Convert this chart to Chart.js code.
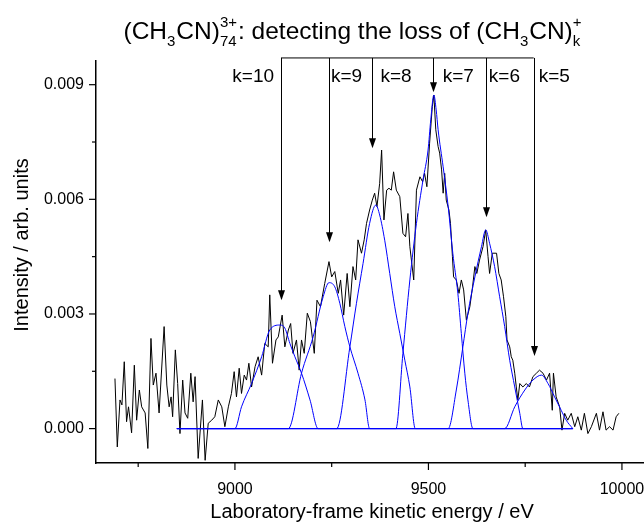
<!DOCTYPE html>
<html>
<head>
<meta charset="utf-8">
<script src="https://cdn.jsdelivr.net/npm/chart.js@4"></script>
<style>
  html, body { margin: 0; padding: 0; background: #fff; }
  #wrap { width: 644px; height: 525px; }
</style>
</head>
<body>
<div id="wrap"><canvas id="spectrum"></canvas></div>
<script>
// measured spectrum (black trace)
const traceEnergy = [
  8690, 8696, 8703, 8708, 8714, 8720, 8725, 8733, 8740, 8746,
  8753, 8759, 8768, 8775, 8783, 8789, 8796, 8804, 8817, 8824,
  8830, 8835, 8839, 8846, 8852, 8858, 8865, 8871, 8878, 8886,
  8892, 8897, 8905, 8916, 8923, 8931, 8940, 8948, 8957, 8966,
  8974, 8983, 8991, 8998, 9004, 9011, 9017, 9024, 9030, 9036,
  9043, 9052, 9060, 9069, 9077, 9086, 9090, 9097, 9106, 9112,
  9122, 9129, 9138, 9144, 9150, 9159, 9166, 9172, 9179, 9187,
  9195, 9205, 9212, 9221, 9232, 9243, 9250, 9258, 9267, 9273,
  9281, 9290, 9297, 9305, 9312, 9318, 9327, 9334, 9340, 9348,
  9355, 9361, 9367, 9374, 9379, 9385, 9392, 9398, 9404, 9410,
  9417, 9426, 9434, 9441, 9447, 9452, 9462, 9469, 9478, 9485,
  9490, 9496, 9503, 9510, 9514, 9519, 9525, 9529, 9534, 9538,
  9542, 9546, 9553, 9557, 9562, 9565, 9572, 9579, 9585, 9591,
  9598, 9607, 9614, 9620, 9625, 9632, 9641, 9648, 9654, 9658,
  9665, 9676, 9682, 9688, 9694, 9700, 9703, 9710, 9714, 9718,
  9723, 9727, 9731, 9736, 9744, 9753, 9761, 9770, 9779, 9787,
  9796, 9805, 9813, 9820, 9823, 9830, 9839, 9845, 9852, 9860,
  9869, 9878, 9886, 9895, 9903, 9912, 9921, 9934, 9942, 9951,
  9959, 9968, 9977, 9985, 9992
];
const traceIntensity = [
  0.00131, -0.00048, 0.00075, 0.00062, 0.00175, 0.00018, 0.00057, -0.00011, 0.00166, 0.00022,
  0.00101, 0.00057, 0.00041, -0.00052, 0.00236, 0.00114, 0.00145, 0.00041, 0.00267, 0.00114,
  0.00057, 0.00083, 0.00031, 0.00206, 0.00118, -0.00013, 0.00127, 0.00041, 0.00027, 0.00145,
  0.00070, 0.00136, -0.00078, 0.00075, -0.00083, 0.00014, 0.00022, 0.00031, 0.00075, 0.00057,
  0.00005, 0.00057, 0.00092, 0.00149, 0.00083, 0.00158, 0.00092, 0.00140, 0.00127, 0.00171,
  0.00109, 0.00162, 0.00188, 0.00140, 0.00223, 0.00214, 0.00350, 0.00171, 0.00232, 0.00240,
  0.00297, 0.00214, 0.00258, 0.00275, 0.00197, 0.00232, 0.00153, 0.00232, 0.00197, 0.00302,
  0.00280, 0.00197, 0.00336, 0.00319, 0.00380, 0.00437, 0.00397, 0.00411, 0.00354, 0.00389,
  0.00297, 0.00406, 0.00319, 0.00424, 0.00389, 0.00494, 0.00459, 0.00494, 0.00537, 0.00572,
  0.00598, 0.00616, 0.00581, 0.00642, 0.00729, 0.00546, 0.00624, 0.00629, 0.00624, 0.00672,
  0.00624, 0.00607, 0.00511, 0.00502, 0.00563, 0.00476, 0.00389, 0.00624, 0.00659, 0.00646,
  0.00668, 0.00633, 0.00747, 0.00843, 0.00873, 0.00782, 0.00738, 0.00721, 0.00677, 0.00616,
  0.00668, 0.00598, 0.00572, 0.00537, 0.00450, 0.00397, 0.00389, 0.00354, 0.00389, 0.00363,
  0.00284, 0.00319, 0.00371, 0.00424, 0.00406, 0.00441, 0.00476, 0.00520, 0.00450, 0.00406,
  0.00459, 0.00459, 0.00406, 0.00389, 0.00345, 0.00293, 0.00232, 0.00214, 0.00188, 0.00179,
  0.00145, 0.00109, 0.00075, 0.00118, 0.00109, 0.00118, 0.00109, 0.00136, 0.00145, 0.00153,
  0.00145, 0.00127, 0.00145, 0.00048, 0.00145, 0.00083, 0.00057, -0.00004, 0.00040, 0.00022,
  0.00040, 0.00005, 0.00031, -0.00004, 0.00040, -0.00013, 0.00005, 0.00040, -0.00004, 0.00044,
  -0.00004, 0.00005, -0.00004, 0.00031, 0.00040
];

// fitted peaks (blue), one per k
const fit10Energy = [8850, 9000, 9017, 9043, 9069, 9090, 9116, 9129, 9142, 9155, 9172, 9194, 9215, 9873];
const fit10Intensity = [0, 0, 0.00057, 0.00118, 0.00188, 0.00258, 0.00271, 0.00263, 0.00223, 0.00188, 0.00145, 0.00075, 0, 0];
const fit9Energy = [8850, 9138, 9172, 9202, 9228, 9243, 9258, 9271, 9284, 9297, 9318, 9336, 9348, 9873];
const fit9Intensity = [0, 0, 0.00145, 0.00240, 0.00345, 0.00382, 0.00371, 0.00328, 0.00267, 0.00214, 0.00145, 0.00075, 0, 0];
const fit8Energy = [8850, 9263, 9297, 9314, 9331, 9348, 9364, 9374, 9387, 9400, 9413, 9426, 9439, 9452, 9466, 9873];
const fit8Intensity = [0, 0, 0.00214, 0.00328, 0.00432, 0.00537, 0.00585, 0.00559, 0.00493, 0.00406, 0.00319, 0.00249, 0.00179, 0.00109, 0, 0];
const fit7Energy = [8850, 9416, 9434, 9452, 9469, 9486, 9499, 9506, 9514, 9520, 9525, 9538, 9551, 9563, 9576, 9585, 9594, 9602, 9615, 9873];
const fit7Intensity = [0, 0, 0.00197, 0.00389, 0.00537, 0.00651, 0.00729, 0.00808, 0.00873, 0.00834, 0.00782, 0.00685, 0.00581, 0.00459, 0.00354, 0.00249, 0.00145, 0.00075, 0, 0];
const fit6Energy = [8850, 9551, 9572, 9589, 9602, 9620, 9637, 9648, 9658, 9671, 9684, 9697, 9710, 9723, 9736, 9744, 9873];
const fit6Intensity = [0, 0, 0.00101, 0.00214, 0.00302, 0.00397, 0.00476, 0.00520, 0.00485, 0.00424, 0.00345, 0.00267, 0.00179, 0.00109, 0.00040, 0, 0];
const fit5Energy = [8850, 9697, 9723, 9749, 9770, 9792, 9809, 9826, 9843, 9856, 9873];
const fit5Intensity = [0, 0, 0.00057, 0.00101, 0.00127, 0.00140, 0.00118, 0.00083, 0.00048, 0.00022, 0];

// arrows marking each k
const arrowLabels = ['k=10', 'k=9', 'k=8', 'k=7', 'k=6', 'k=5'];
const arrowEnergy = [9119, 9243, 9354, 9512, 9648, 9772];
const arrowTip = [0.00336, 0.00488, 0.00734, 0.00880, 0.00553, 0.00190];
const arrowTop = 0.0097;
const labelEnergy = [9101, 9248, 9376, 9537, 9656, 9785];
const labelLevel = 0.0092;

// axes
const xTicks = [9000, 9500, 10000];
const xMinorTicks = [8750, 9250, 9750];
const yTicks = [0, 0.003, 0.006, 0.009];
const yMinorTicks = [0.0015, 0.0045, 0.0075];

const FONT = '"Liberation Sans", Arial, sans-serif';

function pairs(xs, ys) {
    return xs.map((x, i) => ({x: x, y: ys[i]}));
}

function fitSet(xs, ys) {
    return {
        data: pairs(xs, ys),
        showLine: true,
        borderColor: '#0000ff',
        borderWidth: 1,
        pointRadius: 0,
        cubicInterpolationMode: 'monotone',
        order: 0
    };
}

function line(ctx, x1, y1, x2, y2) {
    ctx.beginPath();
    ctx.moveTo(x1, y1);
    ctx.lineTo(x2, y2);
    ctx.stroke();
}

// text with stacked sub/superscripts, centred on cx
function drawRich(ctx, parts, cx, baseline, size) {
    const big = size + 'px ' + FONT;
    const small = Math.round(size * 0.62) + 'px ' + FONT;
    let widths = parts.map(p => {
        if (p.t) { ctx.font = big; return ctx.measureText(p.t).width; }
        ctx.font = small;
        return Math.max(p.sub ? ctx.measureText(p.sub).width : 0, p.sup ? ctx.measureText(p.sup).width : 0) + 1;
    });
    let x = cx - widths.reduce((a, b) => a + b, 0) / 2;
    ctx.textAlign = 'left';
    ctx.textBaseline = 'alphabetic';
    parts.forEach((p, i) => {
        if (p.t) {
            ctx.font = big;
            ctx.fillText(p.t, x, baseline);
        } else {
            ctx.font = small;
            if (p.sub) ctx.fillText(p.sub, x, baseline + size * 0.3);
            if (p.sup) ctx.fillText(p.sup, x, baseline - size * 0.47);
        }
        x += widths[i];
    });
}

const decorations = {
    id: 'decorations',
    afterDraw(chart) {
        const ctx = chart.ctx;
        const xs = chart.scales.x, ys = chart.scales.y;
        const area = chart.chartArea;
        ctx.save();
        ctx.strokeStyle = '#000';
        ctx.fillStyle = '#000';

        // tick marks outside the frame, with their labels
        ctx.lineWidth = 1.2;
        ctx.font = '16px ' + FONT;
        ctx.textAlign = 'center';
        ctx.textBaseline = 'middle';
        xTicks.forEach(v => {
            let p = xs.getPixelForValue(v);
            line(ctx, p, area.bottom, p, area.bottom + 7);
            ctx.fillText(String(v), p, 490);
        });
        xMinorTicks.forEach(v => { let p = xs.getPixelForValue(v); line(ctx, p, area.bottom, p, area.bottom + 4); });
        ctx.textAlign = 'right';
        yTicks.forEach(v => {
            let p = ys.getPixelForValue(v);
            line(ctx, area.left - 7, p, area.left, p);
            ctx.fillText(v.toFixed(3), 84, p);
        });
        yMinorTicks.forEach(v => { let p = ys.getPixelForValue(v); line(ctx, area.left - 4, p, area.left, p); });

        // arrows
        ctx.lineWidth = 1;
        const top = ys.getPixelForValue(arrowTop);
        const xFirst = xs.getPixelForValue(arrowEnergy[0]);
        const xLast = xs.getPixelForValue(arrowEnergy[arrowEnergy.length - 1]);
        line(ctx, xFirst, top, xLast, top);
        arrowEnergy.forEach((e, i) => {
            const px = Math.round(xs.getPixelForValue(e)) + 0.5;
            const tip = ys.getPixelForValue(arrowTip[i]);
            line(ctx, px, top, px, tip - 8);
            ctx.beginPath();
            ctx.moveTo(px, tip);
            ctx.lineTo(px - 3.5, tip - 10);
            ctx.lineTo(px + 3.5, tip - 10);
            ctx.closePath();
            ctx.fill();
        });

        ctx.font = '19px ' + FONT;
        ctx.textBaseline = 'middle';
        arrowLabels.forEach((t, i) => {
            ctx.textAlign = i === 0 ? 'right' : 'left';
            ctx.fillText(t, xs.getPixelForValue(labelEnergy[i]), ys.getPixelForValue(labelLevel));
        });

        // axis titles
        ctx.font = '20px ' + FONT;
        ctx.textAlign = 'center';
        ctx.textBaseline = 'middle';
        ctx.fillText('Laboratory-frame kinetic energy / eV', 372, 512);
        ctx.save();
        ctx.translate(22, 245);
        ctx.rotate(-Math.PI / 2);
        ctx.fillText('Intensity / arb. units', 0, 0);
        ctx.restore();

        // title
        drawRich(ctx, [
            {t: '(CH'}, {sub: '3'}, {t: 'CN)'}, {sup: '3+', sub: '74'},
            {t: ': detecting the loss of (CH'}, {sub: '3'}, {t: 'CN)'}, {sup: '+', sub: 'k'}
        ], 353, 39, 24.5);
        ctx.restore();
    }
};

const data = {
    datasets: [
        fitSet(fit10Energy, fit10Intensity),
        fitSet(fit9Energy, fit9Intensity),
        fitSet(fit8Energy, fit8Intensity),
        fitSet(fit7Energy, fit7Intensity),
        fitSet(fit6Energy, fit6Intensity),
        fitSet(fit5Energy, fit5Intensity),
        {
            data: pairs(traceEnergy, traceIntensity),
            showLine: true,
            borderColor: '#000',
            borderWidth: 1,
            pointRadius: 0,
            tension: 0,
            order: 1
        }
    ]
};

const config = {
    type: 'scatter',
    data,
    options: {
        responsive: true,
        maintainAspectRatio: false,
        animation: false,
        devicePixelRatio: 1,
        layout: {padding: {top: 61, right: 0, bottom: 0, left: 0}},
        plugins: {legend: {display: false}, tooltip: {enabled: false}},
        scales: {
            x: {
                type: 'linear',
                min: 8641,
                max: 10057,
                afterFit: s => { s.height = 62; },
                afterBuildTicks: s => { s.ticks = xTicks.map(v => ({value: v})); },
                grid: {display: false},
                border: {display: true, color: '#000', width: 1.5},
                ticks: {display: false}
            },
            y: {
                min: -0.0009,
                max: 0.00962,
                afterFit: s => { s.width = 96; },
                afterBuildTicks: s => { s.ticks = yTicks.map(v => ({value: v})); },
                grid: {display: false},
                border: {display: true, color: '#000', width: 1.5},
                ticks: {display: false}
            }
        }
    },
    plugins: [decorations]
};

var spectrumChart = new Chart(document.getElementById('spectrum'), config);
</script>
</body>
</html>
